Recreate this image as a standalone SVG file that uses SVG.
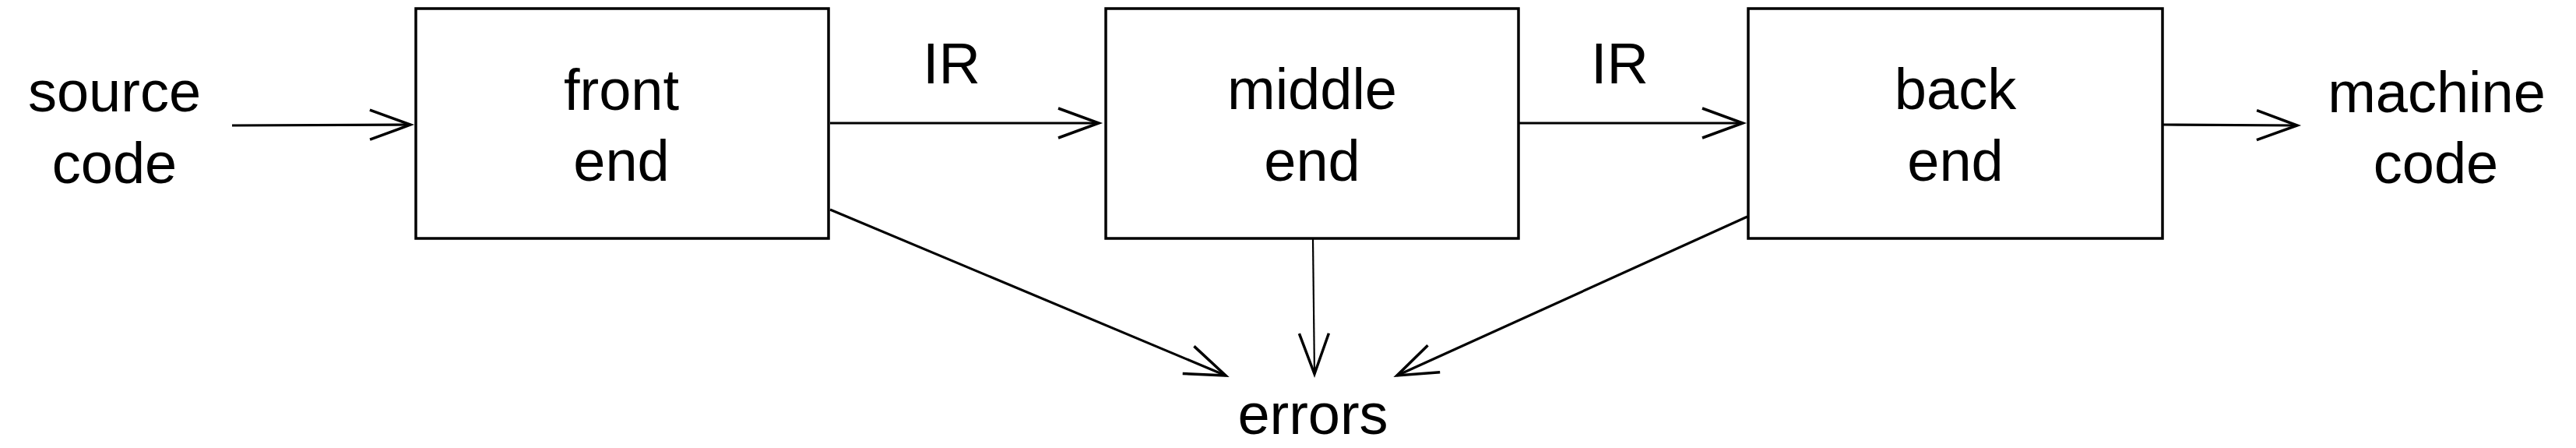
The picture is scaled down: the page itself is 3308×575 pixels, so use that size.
<svg xmlns="http://www.w3.org/2000/svg" width="3308" height="575" viewBox="0 0 3308 575">
<style>
.box{fill:#fff;stroke:#000;stroke-width:3.5}
.t{font-family:"Liberation Sans",Arial,sans-serif;font-size:74px;fill:#000;text-anchor:middle}
.c{stroke:#000;stroke-width:3.2;fill:none;marker-end:url(#ah)}
.thin{stroke-width:2.2}
</style>
<defs>
<marker id="ah" markerUnits="userSpaceOnUse" markerWidth="80" markerHeight="60" viewBox="-60 -30 80 60" refX="0" refY="0" orient="auto" overflow="visible">
<path d="M-52,-19 L0,0 L-52,19" fill="none" stroke="#000" stroke-width="3.5"/>
</marker>
</defs>
<rect width="3308" height="575" fill="#fff"/>
<g id="source">
<text class="t" x="147" y="143">source</text>
<text class="t" x="147" y="235">code</text>
</g>
<g id="front">
<rect class="box" x="534" y="11" width="530" height="295"/>
<text class="t" x="798" y="141">front</text>
<text class="t" x="798" y="232">end</text>
</g>
<g id="middle">
<rect class="box" x="1420" y="11" width="530" height="295"/>
<text class="t" x="1685" y="140">middle</text>
<text class="t" x="1685" y="232">end</text>
</g>
<g id="back">
<rect class="box" x="2245" y="11" width="532" height="295"/>
<text class="t" x="2511" y="140">back</text>
<text class="t" x="2511" y="232">end</text>
</g>
<g id="machine">
<text class="t" x="3129" y="144">machine</text>
<text class="t" x="3128" y="235">code</text>
</g>
<g id="errors">
<text class="t" x="1686" y="557">errors</text>
</g>
<g id="labels">
<text class="t" x="1222" y="107">IR</text>
<text class="t" x="2080" y="107">IR</text>
</g>
<g id="connectors">
<line class="c" x1="298" y1="161" x2="527" y2="160"/>
<line class="c" x1="1066" y1="158" x2="1411" y2="158"/>
<line class="c" x1="1951" y1="158" x2="2238" y2="158"/>
<line class="c" x1="2778" y1="160" x2="2950" y2="161"/>
<line class="c" x1="1066" y1="269" x2="1574" y2="482"/>
<line class="c thin" x1="1686" y1="307" x2="1688" y2="480"/>
<line class="c" x1="2244" y1="278" x2="1794" y2="482"/>
</g>
</svg>
